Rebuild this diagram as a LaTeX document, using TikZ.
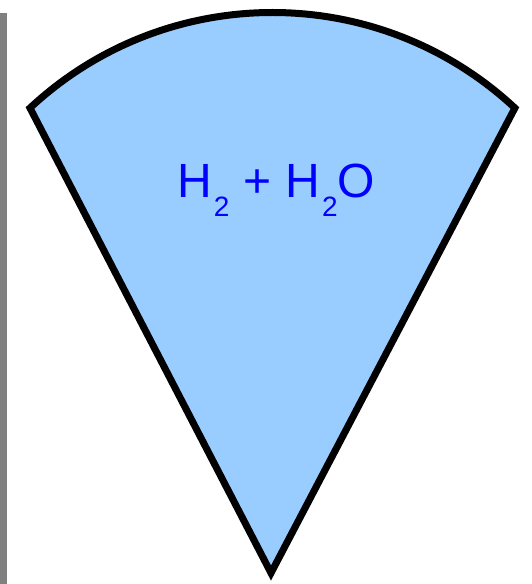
\documentclass[tikz,border=0pt]{standalone}
\usepackage{fontspec}
\setmainfont{Liberation Sans}
\definecolor{wedgefill}{RGB}{153,204,255}
\definecolor{barcol}{RGB}{128,128,128}
\definecolor{txtblue}{RGB}{0,0,255}
\newcommand{\subtwo}{\raisebox{-19pt}{\fontsize{28}{28}\selectfont 2}}
\begin{document}
\begin{tikzpicture}[x=1pt,y=1pt,
  wedge/.style={draw=black,line width=7pt,fill=wedgefill,line join=miter},
  formula/.style={text=txtblue,inner sep=0pt,anchor=base west,font=\fontsize{48}{48}\selectfont}]
\useasboundingbox (0,0) rectangle (531,584);
\fill[barcol] (0,0) rectangle (7,571);
\coordinate (apex) at (271,11);
\coordinate (left) at (30,476);
\draw[wedge] (apex) -- (left) arc[start angle=133,end angle=47,radius=355.5] -- cycle;
\node[formula] (f) at (177,386) {H\kern2pt\subtwo\kern14pt+\kern14ptH\kern2pt\subtwo O};
\end{tikzpicture}
\end{document}
